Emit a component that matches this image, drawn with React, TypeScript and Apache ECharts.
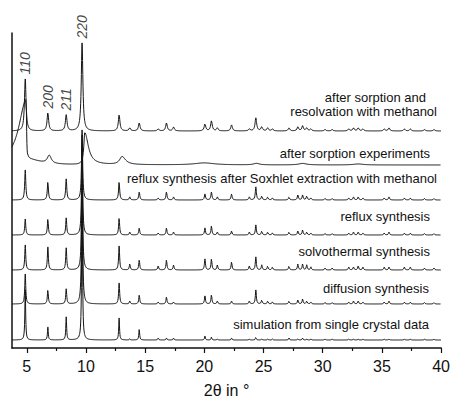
import React, { useEffect, useRef } from "react";
import * as echarts from "echarts";

// Common reflection positions (2θ, degrees)
const peakPositions = [
  4.87, 6.78, 8.33, 9.67, 12.8, 13.7, 14.5, 16.1, 16.8, 17.4, 20.05, 20.6, 21.1,
  22.3, 23.8, 24.35, 24.85, 25.35, 25.75, 27.15, 27.9, 28.3, 28.65, 29.0, 30.2,
  30.8, 32.2, 32.6, 33.0, 33.4, 35.2, 35.6, 36.9, 37.4, 38.6, 39.4,
];

// Peak intensities (arbitrary units) for each pattern, same order as peakPositions
const resolvation = [52, 18, 16, 88, 16, 3, 8, 2, 8, 4, 7, 10, 3, 6, 2, 13, 4, 3, 2, 3, 4, 5, 3, 2, 1.5, 1.5, 2, 3, 3, 2, 2, 3, 2, 2, 1.5, 1.5];
const soxhlet = [30, 18, 21, 70, 18, 3, 8, 2, 8, 3, 6, 8, 3, 6, 3, 13, 4, 3, 2, 3, 5, 5, 4, 2, 1.5, 1.5, 2, 3, 3, 2, 2, 3, 2, 2, 1.5, 1.5];
const reflux = [16, 16, 17, 100, 17, 3, 7, 2, 7, 3, 7, 9, 3, 4, 3, 10, 4, 3, 2, 3, 4, 5, 3, 2, 1.5, 1.5, 2, 3, 3, 2, 2, 3, 2, 2, 1.5, 1.5];
const solvothermal = [25, 23, 22, 125, 24, 6, 10, 4, 10, 5, 11, 11, 5, 8, 4, 13, 5, 4, 3, 4, 6, 6, 5, 3, 2, 2, 3, 3, 4, 3, 3, 3, 3, 3, 2, 2];
const diffusion = [30, 14, 15, 150, 21, 3, 9, 2, 7, 2, 8, 9, 3, 3, 3, 14, 4, 3, 2, 3, 4, 5, 3, 2, 1.5, 1.5, 2, 3, 3, 2, 2, 3, 2, 2, 1.5, 1.5];
const simulation = [50, 13, 23, 170, 22, 1, 11, 2, 2, 2, 4, 3, 1, 2, 1, 3, 1, 1, 1, 2, 1, 2, 1, 1, 1, 1, 1, 1, 1, 1, 1, 1, 1, 1, 1, 1];

// Broad pattern after sorption experiments
const sorptionPositions = [4.95, 5.1, 6.9, 9.9, 13.05, 20.0, 24.4, 28.3, 33.0];
const sorptionHeights = [65, 6, 8, 32, 8, 2, 1.5, 1.5, 1];
const sorptionLeftWidths = [0.75, 0.05, 0.2, 0.1, 0.25, 1.0, 0.3, 0.4, 0.5];
const sorptionRightWidths = [0.04, 1.2, 0.2, 0.35, 0.35, 1.0, 0.3, 0.4, 0.5];

const traceNames = [
  "after sorption and resolvation with methanol",
  "after sorption experiments",
  "reflux synthesis after Soxhlet extraction with methanol",
  "reflux synthesis",
  "solvothermal synthesis",
  "diffusion synthesis",
  "simulation from single crystal data",
];
const traceOffsets = [217, 183, 148, 113, 78, 44, 8];
const traceWidths = [0.08, 0, 0.055, 0.05, 0.05, 0.05, 0.04];

const peakLabels = ["110", "200", "211", "220"];
const tickValues = [5, 10, 15, 20, 25, 30, 35, 40];
const minorTickValues = [7.5, 12.5, 17.5, 22.5, 27.5, 32.5, 37.5];

const X_MIN = 3.75;
const X_MAX = 40;
const FONT = "'Liberation Sans', Arial, sans-serif";

function buildXs(): number[] {
  const set = new Set<number>();
  for (let x = X_MIN; x <= X_MAX + 1e-9; x += 0.02) set.add(Math.round(x * 1000) / 1000);
  peakPositions.forEach((p) => set.add(p));
  sorptionPositions.forEach((p) => set.add(p));
  return Array.from(set).sort((a, b) => a - b);
}

function profile(xs: number[], pos: number[], hts: number[], gl: number[], gr: number[]) {
  return xs.map((x) => {
    let s = 0;
    for (let i = 0; i < pos.length; i++) {
      const d = x - pos[i];
      const g = d < 0 ? gl[i] : gr[i];
      s += hts[i] / (1 + (d / g) * (d / g));
    }
    return s;
  });
}

export default function App() {
  const ref = useRef<HTMLDivElement>(null);

  useEffect(() => {
    if (!ref.current) return;
    const chart = echarts.init(ref.current, undefined, { renderer: "svg" });
    const xs = buildXs();
    const patterns = [resolvation, null, soxhlet, reflux, solvothermal, diffusion, simulation];

    const lineSeries = patterns.map((hts, k) => {
      let prof: number[];
      if (hts === null) {
        prof = profile(xs, sorptionPositions, sorptionHeights, sorptionLeftWidths, sorptionRightWidths);
      } else {
        const w = peakPositions.map(() => traceWidths[k]);
        prof = profile(xs, peakPositions, hts, w, w);
      }
      return {
        type: "line",
        name: traceNames[k],
        xAxisIndex: 0,
        yAxisIndex: 0,
        showSymbol: false,
        symbol: "none",
        silent: true,
        clip: false,
        lineStyle: { color: "#151515", width: 1 },
        data: xs.map((x, i) => [x, traceOffsets[k] + prof[i]]),
      };
    });

    const labelSeries = {
      type: "scatter",
      xAxisIndex: 0,
      yAxisIndex: 0,
      symbolSize: 1,
      silent: true,
      itemStyle: { color: "rgba(0,0,0,0)" },
      label: {
        show: true,
        position: "top",
        distance: 4,
        rotate: 90,
        align: "left",
        verticalAlign: "middle",
        fontFamily: FONT,
        fontStyle: "italic",
        fontSize: 14,
        color: "#111",
      },
      data: peakLabels.map((l, i) => ({
        value: [peakPositions[i], traceOffsets[0] + resolvation[i]],
        label: { formatter: l },
      })),
    };

    const textStyle = (t: string, x: number, y: number) => ({
      type: "text",
      x,
      y,
      style: {
        text: t,
        fill: "#111",
        font: `13px ${FONT}`,
        textAlign: "right",
        textVerticalAlign: "middle",
      },
    });

    chart.setOption({
      animation: false,
      grid: { left: 12, right: 11, top: 33, bottom: 59 },
      xAxis: [
        {
          type: "value",
          min: X_MIN,
          max: X_MAX,
          name: "2θ in °",
          nameLocation: "middle",
          nameGap: 34,
          nameTextStyle: { fontFamily: FONT, fontSize: 16, color: "#111" },
          axisLine: { lineStyle: { color: "#111", width: 1.5 } },
          axisTick: { customValues: tickValues, length: 5, lineStyle: { color: "#111", width: 1.2 } },
          axisLabel: {
            customValues: tickValues,
            margin: 10,
            fontFamily: FONT,
            fontSize: 16,
            color: "#111",
          },
          splitLine: { show: false },
        },
        {
          type: "value",
          min: X_MIN,
          max: X_MAX,
          position: "bottom",
          axisLine: { show: false },
          axisTick: { customValues: minorTickValues, length: 3, lineStyle: { color: "#111", width: 1.2 } },
          axisLabel: { show: false },
          splitLine: { show: false },
        },
      ],
      yAxis: {
        type: "value",
        min: 0,
        max: 315,
        axisLine: { show: true, lineStyle: { color: "#111", width: 1.5 } },
        axisTick: { show: false },
        axisLabel: { show: false },
        splitLine: { show: false },
      },
      graphic: [
        textStyle("after sorption and", 426, 97),
        textStyle("resolvation with methanol", 437, 111),
        textStyle("after sorption experiments", 430, 153),
        textStyle("reflux synthesis after Soxhlet extraction with methanol", 437, 178),
        textStyle("reflux synthesis", 430, 216),
        textStyle("solvothermal synthesis", 430, 251),
        textStyle("diffusion synthesis", 429, 288),
        textStyle("simulation from single crystal data", 429, 324),
      ],
      series: [...lineSeries, labelSeries],
    });
    return () => chart.dispose();
  }, []);

  return (
    <div
      ref={ref}
      style={{ position: "fixed", left: 0, top: 0, width: 453, height: 407, background: "#fff" }}
    />
  );
}
